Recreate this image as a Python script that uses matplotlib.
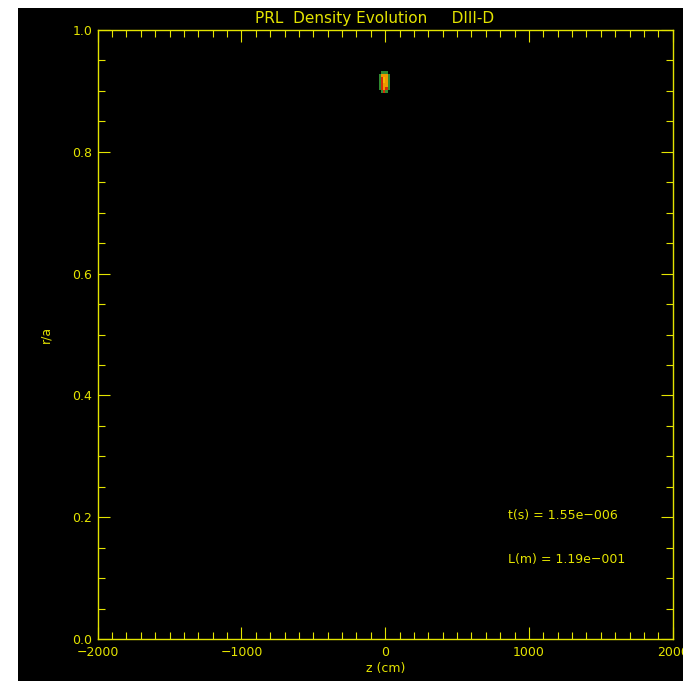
import numpy as np
import matplotlib
matplotlib.use("Agg")
import matplotlib.pyplot as plt
from matplotlib.colors import ListedColormap, BoundaryNorm
from matplotlib.patches import Rectangle
from matplotlib.ticker import MultipleLocator

# ---- data ----
title = "PRL  Density Evolution     DIII-D"
z_edges = [-43, -28, -13, 2, 17, 33]                       # cm
r_edges = [0.897, 0.902, 0.907, 0.913, 0.918, 0.923, 0.928, 0.933]  # r/a
density = [                                                # rows bottom -> top
    [0, 1, 2, 1, 0],
    [1, 2, 3, 2, 1],
    [1, 2, 3, 3, 1],
    [1, 2, 4, 3, 1],
    [1, 2, 4, 3, 1],
    [1, 3, 3, 3, 1],
    [0, 1, 1, 1, 0],
]
t_text = "t(s) = 1.55e\u2212006"
l_text = "L(m) = 1.19e\u2212001"
xticks = [-2000, -1000, 0, 1000, 2000]
yticks = [0.0, 0.2, 0.4, 0.6, 0.8, 1.0]

YEL = "#e4e400"

fig = plt.figure(figsize=(6.83, 6.81), dpi=100, facecolor="white")
# black plotting window as in the IDL output
fig.patches.append(Rectangle((18/683, 0), 1 - 18/683, 1 - 8/681,
                             transform=fig.transFigure, facecolor="black",
                             edgecolor="none", zorder=-10))

ax = fig.add_axes([97.7/683, 1 - 639/681, (672.7-97.7)/683, (639-30)/681])
ax.set_facecolor("black")

cmap = ListedColormap(["#2e8a30", "#d42a08", "#ee9a00", "#f6b800"])
norm = BoundaryNorm([0.5, 1.5, 2.5, 3.5, 4.5], cmap.N)
D = np.ma.masked_equal(np.array(density, dtype=float), 0)
ax.pcolormesh(z_edges, r_edges, D, cmap=cmap, norm=norm, shading="flat")

ax.set_xlim(-2000, 2000)
ax.set_ylim(0, 1.0)
ax.set_xticks(xticks)
ax.set_xticklabels([str(v).replace("-", "\u2212") for v in xticks])
ax.set_yticks(yticks)
ax.set_yticklabels([f"{v:.1f}" for v in yticks])
ax.xaxis.set_minor_locator(MultipleLocator(100))
ax.yaxis.set_minor_locator(MultipleLocator(0.05))

for s in ax.spines.values():
    s.set_color(YEL)
    s.set_linewidth(1.0)
ax.tick_params(which="both", direction="in", top=True, right=True,
               colors=YEL, width=0.8, labelsize=9, labelcolor=YEL)
ax.tick_params(which="major", length=8.5)
ax.tick_params(which="minor", length=5)
ax.tick_params(axis="x", pad=5)
ax.tick_params(axis="y", pad=4)

ax.set_xlabel("z (cm)", color=YEL, fontsize=9, labelpad=2)
ax.set_ylabel("r/a", color=YEL, fontsize=9, labelpad=14)
fig.text(375/683, 1 - 18/681, title, color=YEL, fontsize=11,
         ha="center", va="center")
# annotation positions given in axes fractions (pixel-matched to reference)
ax.text((508-97.7)/575, (639-515)/609, t_text, transform=ax.transAxes,
        color=YEL, fontsize=9, ha="left", va="center")
ax.text((508-97.7)/575, (639-560)/609, l_text, transform=ax.transAxes,
        color=YEL, fontsize=9, ha="left", va="center")

fig.savefig("out.png", dpi=100, facecolor="white")
